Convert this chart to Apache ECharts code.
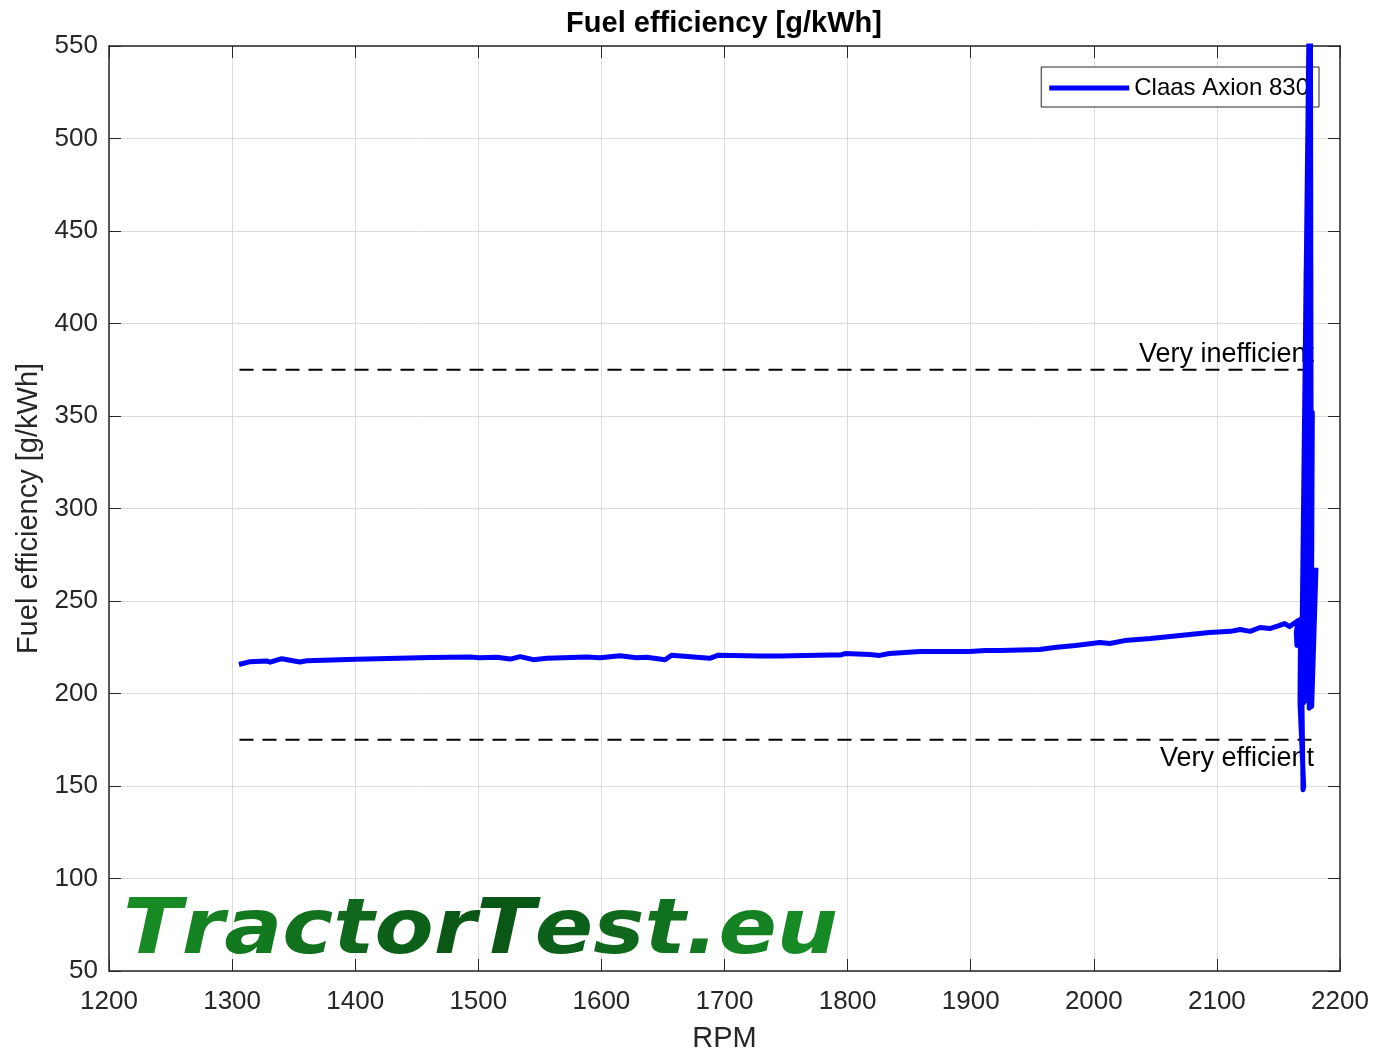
<!DOCTYPE html>
<html>
<head>
<meta charset="utf-8">
<script src="https://cdn.jsdelivr.net/npm/echarts@6/dist/echarts.min.js"></script>
<style>
html,body{margin:0;padding:0;background:#fff;}
#chart{width:1375px;height:1056px;}
</style>
</head>
<body>
<div id="chart"></div>
<script>
// RPM values (x) and fuel efficiency values (y)
const rpm = [1305.6,1314.6,1328,1331,1340.3,1355,1360.6,1401,1461,1493,1501,1515,1526,1534,1544.7,1555.6,1569,1588,1599,1615,1628.6,1636.7,1651.7,1657,1688,1695,
  1729,1745,1786,1794,1798,1818,1826,1834,1859,1899,1912,1924,1956,1968,1985,2005,2013,2025,2046,2070,2094,2111,2119,2127,2135,2143,2151,2155,2159,2166,
  2164.5,2165,2166,2168,2167.5,2170.5,2170,2169,2172.5,2171.5,2168.5,2175,2174,2170.5,2176,2176.5,2175,2177.5,2176.5,
  2168,2173,2167.5,2174,2169.5,2176,2171,2177,2180.5];
const efficiency = [215.7,217.2,217.6,216.9,218.8,217,217.7,218.5,219.4,219.7,219.3,219.6,218.6,219.9,218.3,219,219.3,219.7,219.3,220.4,219.3,219.6,218.2,220.7,219,220.7,
  220.3,220.3,220.8,220.8,221.6,221.1,220.6,221.6,222.7,222.7,223.2,223.2,223.8,224.9,226,227.6,227,228.6,229.7,231.4,233,233.6,234.6,233.6,235.7,235.1,236.8,237.8,236.2,239.5,
  233,226,238,240,195,150,148,200,429,300,192,570,350,195,560,350,192,352,193,
  240,198,235,196,245,197,250,193,268];
const seriesName = 'Claas Axion 830';
const refRpm = [1306, 2180.5];
const inefficientLevel = [375, 375];
const efficientLevel = [175, 175];
const xTicks = [1200, 2200, 100];
const yTicks = [50, 550, 50];
const watermark = 'TractorTest.eu';

const chart = echarts.init(document.getElementById('chart'), null, {renderer: 'canvas'});
const FONT = '"Liberation Sans", Arial, sans-serif';
const axisColor = '#262626';
const lineData = rpm.map((r, i) => [r, efficiency[i]]);
function refData(levels, label, pos) {
  return refRpm.map((r, i) => {
    const item = {value: [r, levels[i]]};
    if (i === refRpm.length - 1) {
      item.label = {show: true, formatter: label, position: pos, align: 'right',
        distance: 3, offset: [-2, pos === 'top' ? 1 : 2], color: '#000', fontSize: 27, fontFamily: FONT};
    }
    return item;
  });
}
// watermark: per-letter green gradient (light - dark - light)
function mix(a, b, t) {
  const pa = [1,3,5].map(k => parseInt(a.substr(k,2),16));
  const pb = [1,3,5].map(k => parseInt(b.substr(k,2),16));
  return 'rgb(' + pa.map((v, k) => Math.round(v + (pb[k]-v)*t)).join(',') + ')';
}
const wmRich = {};
let wmText = '';
const chars = watermark.split('');
chars.forEach((ch, i) => {
  const t = i / (chars.length - 1);
  const col = t < 0.5 ? mix('#178a24', '#0a5315', t / 0.5) : mix('#0a5315', '#168a25', (t - 0.5) / 0.5);
  wmRich['c' + i] = {fill: col, font: 'italic bold 76px "DejaVu Sans"'};
  wmText += '{c' + i + '|' + ch + '}';
});
const baseX = {type: 'value', min: xTicks[0], max: xTicks[1], interval: xTicks[2]};
const baseY = {type: 'value', min: yTicks[0], max: yTicks[1], interval: yTicks[2]};
const fmt = v => String(v);

chart.setOption({
  animation: false,
  backgroundColor: '#fff',
  title: {text: 'Fuel efficiency [g/kWh]', left: 724, textAlign: 'center', top: 9, padding: 0,
    textStyle: {fontFamily: FONT, fontSize: 29, fontWeight: 'bold', color: '#000'}},
  grid: {left: 109, right: 35, top: 46, bottom: 85, containLabel: false, outerBoundsMode: 'none'},
  legend: {data: [seriesName], right: 56, top: 67, orient: 'vertical',
    backgroundColor: '#fff', borderColor: axisColor, borderWidth: 1, borderRadius: 0,
    padding: [9, 10, 7, 8], itemWidth: 80, itemHeight: 5, icon: 'rect', itemGap: 6,
    textStyle: {fontFamily: FONT, fontSize: 24, color: '#000'}},
  xAxis: [
    Object.assign({}, baseX, {position: 'bottom', name: 'RPM', nameLocation: 'middle', nameGap: 53,
      nameTextStyle: {fontFamily: FONT, fontSize: 29, color: axisColor},
      axisLine: {show: true, lineStyle: {color: axisColor, width: 1.5}},
      axisTick: {show: true, inside: true, length: 12, lineStyle: {color: axisColor}},
      axisLabel: {fontFamily: FONT, fontSize: 26, color: axisColor, margin: 18, formatter: fmt},
      splitLine: {show: true, lineStyle: {color: '#dcdcdc', width: 1}}}),
    Object.assign({}, baseX, {position: 'top',
      axisLine: {show: true, onZero: false, lineStyle: {color: axisColor, width: 1.5}},
      axisTick: {show: true, inside: true, length: 12, lineStyle: {color: axisColor}},
      axisLabel: {show: false}, splitLine: {show: false}})
  ],
  yAxis: [
    Object.assign({}, baseY, {position: 'left', name: 'Fuel efficiency [g/kWh]', nameLocation: 'middle', nameGap: 66,
      nameTextStyle: {fontFamily: FONT, fontSize: 29, color: axisColor},
      axisLine: {show: true, lineStyle: {color: axisColor, width: 1.5}},
      axisTick: {show: true, inside: true, length: 12, lineStyle: {color: axisColor}},
      axisLabel: {fontFamily: FONT, fontSize: 26, color: axisColor, margin: 11, formatter: fmt,
        padding: [6, 0, 0, 0]},
      splitLine: {show: true, lineStyle: {color: '#dcdcdc', width: 1}}}),
    Object.assign({}, baseY, {position: 'right',
      axisLine: {show: true, onZero: false, lineStyle: {color: axisColor, width: 1.5}},
      axisTick: {show: true, inside: true, length: 12, lineStyle: {color: axisColor}},
      axisLabel: {show: false}, splitLine: {show: false}})
  ],
  graphic: [{
    type: 'text', x: 123, y: 895, scaleX: 1.133, z: 1, silent: true,
    style: {text: wmText, rich: wmRich, verticalAlign: 'top', align: 'left',
      font: 'italic bold 76px "DejaVu Sans"'}
  }],
  series: [
    {name: 'inefficient', type: 'line', data: refData(inefficientLevel, 'Very inefficient', 'top'),
      symbol: 'circle', symbolSize: 0, showSymbol: true, silent: true, z: 3,
      lineStyle: {color: '#000', width: 2.2, type: [14, 9]}, itemStyle: {color: '#000'}},
    {name: 'efficient', type: 'line', data: refData(efficientLevel, 'Very efficient', 'bottom'),
      symbol: 'circle', symbolSize: 0, showSymbol: true, silent: true, z: 3,
      lineStyle: {color: '#000', width: 2.2, type: [14, 9]}, itemStyle: {color: '#000'}},
    {name: seriesName, type: 'line', data: lineData, showSymbol: false, clip: true, z: 4,
      lineStyle: {color: '#0000ff', width: 5, join: 'round'}, itemStyle: {color: '#0000ff'}}
  ]
});
</script>
</body>
</html>
